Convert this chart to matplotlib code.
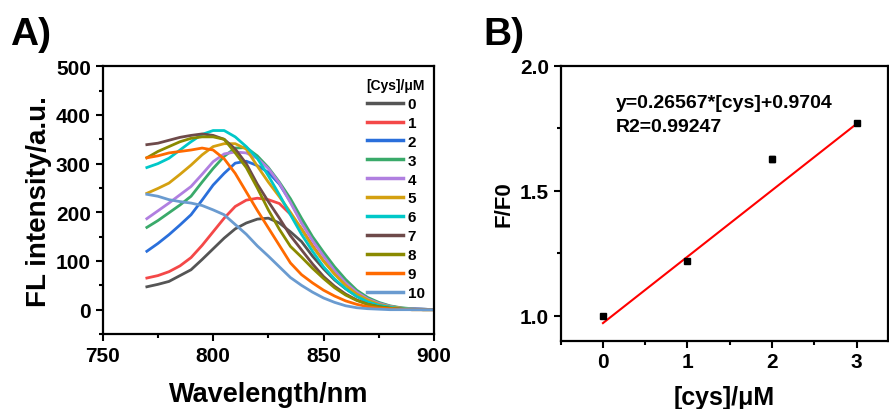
import matplotlib.pyplot as plt
from matplotlib.ticker import MultipleLocator

plt.rcParams['font.family'] = ['Liberation Sans', 'DejaVu Sans']
plt.rcParams['font.weight'] = 'bold'

# emission wavelengths (nm)
wavelength = [770, 775, 780, 785, 790, 795, 800, 805, 810, 815, 820, 825, 830,
              835, 840, 845, 850, 855, 860, 865, 870, 875, 880, 885, 890, 895, 900]

# fluorescence spectra, one list per [Cys] (uM)
fl_0 = [47, 52, 58, 70, 82, 103, 125, 147, 166, 178, 186, 188, 178,
        160, 140, 110, 84, 61, 43, 28, 17, 10, 5, 2, 1, 0, 0]
fl_1 = [65, 70, 78, 90, 107, 132, 160, 188, 212, 225, 229, 226, 218,
        196, 166, 132, 100, 74, 52, 34, 21, 12, 6, 3, 1, 0, 0]
fl_2 = [120, 136, 154, 174, 195, 225, 256, 280, 301, 305, 296, 282, 258,
        222, 180, 145, 112, 82, 57, 37, 23, 13, 7, 3, 2, 1, 0]
fl_3 = [169, 183, 199, 215, 233, 262, 290, 315, 332, 333, 316, 292, 262,
        228, 188, 150, 118, 88, 62, 40, 25, 15, 8, 4, 2, 1, 0]
fl_4 = [187, 203, 219, 236, 253, 278, 304, 320, 324, 322, 311, 290, 260,
        220, 178, 142, 110, 80, 55, 36, 22, 13, 7, 3, 2, 1, 0]
fl_5 = [239, 249, 260, 278, 297, 318, 335, 341, 341, 330, 295, 262, 232,
        200, 166, 130, 100, 73, 50, 32, 20, 11, 6, 3, 1, 0, 0]
fl_6 = [292, 300, 311, 328, 345, 360, 368, 368, 355, 335, 311, 275, 236,
        195, 155, 120, 88, 63, 43, 27, 16, 9, 5, 2, 1, 0, 0]
fl_7 = [339, 342, 348, 354, 358, 361, 358, 350, 330, 300, 258, 222, 188,
        152, 123, 94, 68, 48, 32, 20, 11, 6, 3, 1, 0, 0, 0]
fl_8 = [312, 325, 335, 345, 352, 355, 355, 350, 322, 292, 250, 205, 165,
        130, 108, 85, 64, 45, 30, 19, 11, 6, 3, 1, 0, 0, 0]
fl_9 = [312, 316, 322, 325, 328, 332, 328, 310, 280, 242, 204, 168, 132,
        96, 72, 55, 40, 28, 18, 11, 6, 3, 2, 1, 0, 0, 0]
fl_10 = [237, 233, 226, 222, 219, 214, 205, 195, 175, 155, 131, 110, 88,
         66, 50, 36, 24, 15, 8, 4, 2, 1, 0, 0, 0, 0, 0]

spectra = [fl_0, fl_1, fl_2, fl_3, fl_4, fl_5, fl_6, fl_7, fl_8, fl_9, fl_10]
spectra_labels = ['0', '1', '2', '3', '4', '5', '6', '7', '8', '9', '10']
colors = ['#555555', '#f44848', '#2a6fdb', '#3aaa6a', '#b07fe0', '#d4a010',
          '#00c8c8', '#6e4a4a', '#8a8a00', '#ff6a00', '#6a9bd0']

# calibration (panel B)
cys = [0, 1, 2, 3]
ratio = [1.0, 1.22, 1.625, 1.77]
ratio_err = [0.004, 0.006, 0.012, 0.006]
slope, intercept = 0.26567, 0.9704


def style_axes(ax, tick_size):
    for sp in ax.spines.values():
        sp.set_linewidth(1.6)
    ax.tick_params(which='major', direction='out', length=5, width=1.5,
                   labelsize=tick_size, top=False, right=False)
    ax.tick_params(which='minor', direction='out', length=3, width=1.5,
                   top=False, right=False)
    for lab in ax.get_xticklabels() + ax.get_yticklabels():
        lab.set_fontweight('bold')


fig = plt.figure(figsize=(8.89, 4.10), dpi=100)

# ---- panel A: spectra
axA = fig.add_axes([0.1155, 0.1829, 0.3727, 0.653])
for vals, lab, c in zip(spectra, spectra_labels, colors):
    axA.plot(wavelength, vals, color=c, lw=2, label=lab)
axA.set_xlim(750, 900)
axA.set_ylim(-50, 500)
axA.xaxis.set_major_locator(MultipleLocator(50))
axA.xaxis.set_minor_locator(MultipleLocator(25))
axA.yaxis.set_major_locator(MultipleLocator(100))
axA.yaxis.set_minor_locator(MultipleLocator(50))
style_axes(axA, 15)
axA.set_xlabel('Wavelength/nm', fontsize=19.5, fontweight='bold', labelpad=12)
axA.set_ylabel('FL intensity/a.u.', fontsize=20, fontweight='bold', labelpad=3)
leg = axA.legend(loc='upper right', bbox_to_anchor=(1.0, 0.99), frameon=False,
                 fontsize=11, handlelength=2.4, handletextpad=0.3,
                 labelspacing=0.32, borderaxespad=0.2,
                 title='[Cys]/μM', title_fontproperties={'weight': 'bold', 'size': 10})
for t in leg.get_texts():
    t.set_fontweight('bold')
for ln in leg.get_lines():
    ln.set_linewidth(2.5)

# ---- panel B: calibration
axB = fig.add_axes([0.6307, 0.1666, 0.368, 0.6707])
fit_x = [cys[0], cys[-1]]
fit_y = [slope * x + intercept for x in fit_x]
axB.plot(fit_x, fit_y, color='red', lw=1.5)
axB.errorbar(cys, ratio, yerr=ratio_err, fmt='s', color='black', ms=4.5,
             capsize=2, elinewidth=1, zorder=3)
axB.set_xlim(-0.5, 3.37)
axB.set_ylim(0.9, 2.0)
axB.xaxis.set_major_locator(MultipleLocator(1))
axB.xaxis.set_minor_locator(MultipleLocator(0.5))
axB.yaxis.set_major_locator(MultipleLocator(0.5))
axB.yaxis.set_minor_locator(MultipleLocator(0.25))
style_axes(axB, 15)
axB.set_xlabel('[cys]/μM', fontsize=18, fontweight='bold', labelpad=10)
axB.set_ylabel('F/F0', fontsize=16, fontweight='bold', labelpad=4)
axB.text(0.15, 1.852, 'y=0.26567*[cys]+0.9704', fontsize=14,
         fontweight='bold', va='center')
axB.text(0.15, 1.756, 'R2=0.99247', fontsize=14, fontweight='bold', va='center')

fig.text(0.011, 0.89, 'A)', fontsize=28, fontweight='bold', va='baseline')
fig.text(0.544, 0.89, 'B)', fontsize=28, fontweight='bold', va='baseline')

fig.savefig('out.png', dpi=100)
